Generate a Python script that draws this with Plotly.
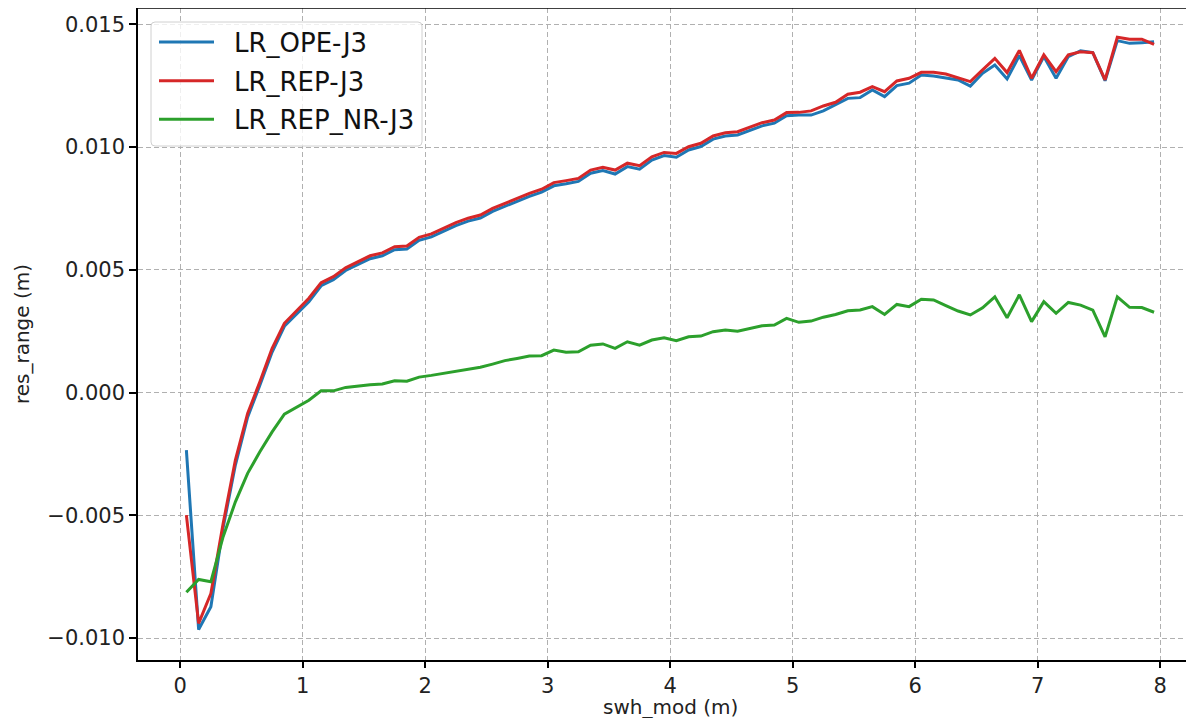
import plotly.graph_objects as go

swh_mod = [0.05, 0.15, 0.25, 0.35, 0.45, 0.55, 0.65, 0.75, 0.85, 0.95,
           1.05, 1.15, 1.25, 1.35, 1.45, 1.55, 1.65, 1.75, 1.85, 1.95,
           2.05, 2.15, 2.25, 2.35, 2.45, 2.55, 2.65, 2.75, 2.85, 2.95,
           3.05, 3.15, 3.25, 3.35, 3.45, 3.55, 3.65, 3.75, 3.85, 3.95,
           4.05, 4.15, 4.25, 4.35, 4.45, 4.55, 4.65, 4.75, 4.85, 4.95,
           5.05, 5.15, 5.25, 5.35, 5.45, 5.55, 5.65, 5.75, 5.85, 5.95,
           6.05, 6.15, 6.25, 6.35, 6.45, 6.55, 6.65, 6.75, 6.85, 6.95,
           7.05, 7.15, 7.25, 7.35, 7.45, 7.55, 7.65, 7.75, 7.85, 7.95]

lr_ope_j3 = [-0.00234, -0.00965, -0.00872, -0.00550, -0.00295, -0.00100, 0.00030, 0.00165, 0.00270, 0.00320,
             0.00370, 0.00435, 0.00460, 0.00497, 0.00520, 0.00545, 0.00557, 0.00582, 0.00585, 0.00620,
             0.00634, 0.00657, 0.00680, 0.00698, 0.00711, 0.00738, 0.00759, 0.00779, 0.00799, 0.00816,
             0.00842, 0.00850, 0.00860, 0.00893, 0.00904, 0.00890, 0.00920, 0.00910, 0.00947, 0.00965,
             0.00958, 0.00988, 0.01002, 0.01032, 0.01045, 0.01049, 0.01067, 0.01086, 0.01097, 0.01127,
             0.01130, 0.01130, 0.01147, 0.01171, 0.01198, 0.01201, 0.01232, 0.01205, 0.01250, 0.01260,
             0.01293, 0.01289, 0.01282, 0.01273, 0.01248, 0.01300, 0.01334, 0.01277, 0.01372, 0.01273,
             0.01368, 0.01280, 0.01368, 0.01392, 0.01384, 0.01270, 0.01433, 0.01422, 0.01425, 0.01429]

lr_rep_j3 = [-0.00499, -0.00940, -0.00818, -0.00533, -0.00275, -0.00085, 0.00044, 0.00180, 0.00282, 0.00333,
             0.00384, 0.00447, 0.00472, 0.00508, 0.00532, 0.00557, 0.00569, 0.00594, 0.00597, 0.00632,
             0.00646, 0.00669, 0.00692, 0.00710, 0.00723, 0.00750, 0.00771, 0.00791, 0.00811, 0.00828,
             0.00855, 0.00863, 0.00872, 0.00906, 0.00917, 0.00906, 0.00934, 0.00924, 0.00960, 0.00978,
             0.00974, 0.01001, 0.01015, 0.01045, 0.01058, 0.01062, 0.01080, 0.01099, 0.01110, 0.01140,
             0.01141, 0.01147, 0.01167, 0.01182, 0.01215, 0.01223, 0.01246, 0.01225, 0.01269, 0.01280,
             0.01304, 0.01304, 0.01297, 0.01282, 0.01266, 0.01314, 0.01361, 0.01303, 0.01393, 0.01280,
             0.01375, 0.01307, 0.01375, 0.01388, 0.01384, 0.01273, 0.01447, 0.01439, 0.01439, 0.01418]

lr_rep_nr_j3 = [-0.00813, -0.00761, -0.00770, -0.00587, -0.00445, -0.00329, -0.00241, -0.00160, -0.00088, -0.00060,
                -0.00031, 0.00007, 0.00007, 0.00021, 0.00028, 0.00032, 0.00035, 0.00048, 0.00046, 0.00063,
                0.00070, 0.00078, 0.00089, 0.00097, 0.00103, 0.00116, 0.00130, 0.00139, 0.00149, 0.00150,
                0.00173, 0.00164, 0.00166, 0.00193, 0.00198, 0.00180, 0.00207, 0.00193, 0.00214, 0.00223,
                0.00211, 0.00227, 0.00230, 0.00248, 0.00255, 0.00250, 0.00261, 0.00272, 0.00275, 0.00302,
                0.00286, 0.00291, 0.00307, 0.00318, 0.00333, 0.00336, 0.00350, 0.00318, 0.00359, 0.00350,
                0.00380, 0.00377, 0.00354, 0.00332, 0.00316, 0.00345, 0.00390, 0.00305, 0.00398, 0.00289,
                0.00370, 0.00323, 0.00367, 0.00356, 0.00336, 0.00227, 0.00390, 0.00347, 0.00346, 0.00327]

series_names = ["LR_OPE-J3", "LR_REP-J3", "LR_REP_NR-J3"]
series_colors = ["#1f77b4", "#d62728", "#2ca02c"]

x_tickvals = [0, 1, 2, 3, 4, 5, 6, 7, 8]
y_tickvals = [-0.010, -0.005, 0.000, 0.005, 0.010, 0.015]
y_ticktext = ["\u22120.010", "\u22120.005", "0.000", "0.005", "0.010", "0.015"]
x_title = "swh_mod (m)"
y_title = "res_range (m)"

font_family = "DejaVu Sans"

fig = go.Figure()
for name, ys, col in zip(series_names, [lr_ope_j3, lr_rep_j3, lr_rep_nr_j3], series_colors):
    fig.add_trace(go.Scatter(x=swh_mod, y=ys, mode="lines", name=name,
                             line=dict(color=col, width=3), showlegend=False))

# plot-area size in px, used to place the matplotlib-style legend
W, H = 1056.0, 652.0
def px(xp):
    return xp / W
def py(yp):
    return 1 - yp / H

bx0, bx1, by0, by1 = 13, 284, 14, 138   # legend box (px from plot-area top-left)
r = 4
path = (f"M {px(bx0 + r)},{py(by0)} L {px(bx1 - r)},{py(by0)} Q {px(bx1)},{py(by0)} {px(bx1)},{py(by0 + r)} "
        f"L {px(bx1)},{py(by1 - r)} Q {px(bx1)},{py(by1)} {px(bx1 - r)},{py(by1)} "
        f"L {px(bx0 + r)},{py(by1)} Q {px(bx0)},{py(by1)} {px(bx0)},{py(by1 - r)} "
        f"L {px(bx0)},{py(by0 + r)} Q {px(bx0)},{py(by0)} {px(bx0 + r)},{py(by0)} Z")
shapes = [
    dict(type="line", xref="paper", yref="paper", x0=0, x1=1, y0=1, y1=1,
         line=dict(color="black", width=1.5)),
    dict(type="path", xref="paper", yref="paper", path=path,
         fillcolor="rgba(255,255,255,0.8)", line=dict(color="#d0d0d0", width=1)),
]
annotations = []
entry_y = [34, 72.7, 111.3]
for name, col, ey in zip(series_names, series_colors, entry_y):
    shapes.append(dict(type="line", xref="paper", yref="paper",
                       x0=px(21), x1=px(76), y0=py(ey), y1=py(ey),
                       line=dict(color=col, width=3)))
    annotations.append(dict(xref="paper", yref="paper", x=px(94), y=py(ey + 1),
                            xanchor="left", yanchor="middle", showarrow=False,
                            text=name, font=dict(family=font_family, size=26, color="#111111")))

# x-axis title centred on the original (wider) axes
annotations.append(dict(xref="paper", yref="paper", x=px(532), y=py(652 + 47),
                        xanchor="center", yanchor="middle", showarrow=False,
                        text=x_title, font=dict(family=font_family, size=20, color="#222222")))

fig.update_layout(
    width=1186, height=710,
    margin=dict(l=130, r=0, t=0, b=58),
    paper_bgcolor="white", plot_bgcolor="white",
    font=dict(family=font_family, size=21, color="#222222"),
    shapes=shapes, annotations=annotations,
    xaxis=dict(range=[-0.345, 8.276], tickvals=x_tickvals,
               showgrid=True, gridcolor="#b0b0b0", gridwidth=1, griddash="5px,3px",
               showline=True, linecolor="black", linewidth=1.5, mirror=False,
               ticks="outside", ticklen=6, tickwidth=1.5, tickcolor="black",
               zeroline=False),
    yaxis=dict(range=[-0.01089, 0.01566], tickvals=y_tickvals, ticktext=y_ticktext,
               showgrid=True, gridcolor="#b0b0b0", gridwidth=1, griddash="5px,3px",
               showline=True, linecolor="black", linewidth=1.5, mirror=False,
               ticks="outside", ticklen=7, tickwidth=1.5, tickcolor="black",
               zeroline=False,
               title=dict(text=y_title, font=dict(size=20), standoff=12)),
)

fig.write_html("out.html")
